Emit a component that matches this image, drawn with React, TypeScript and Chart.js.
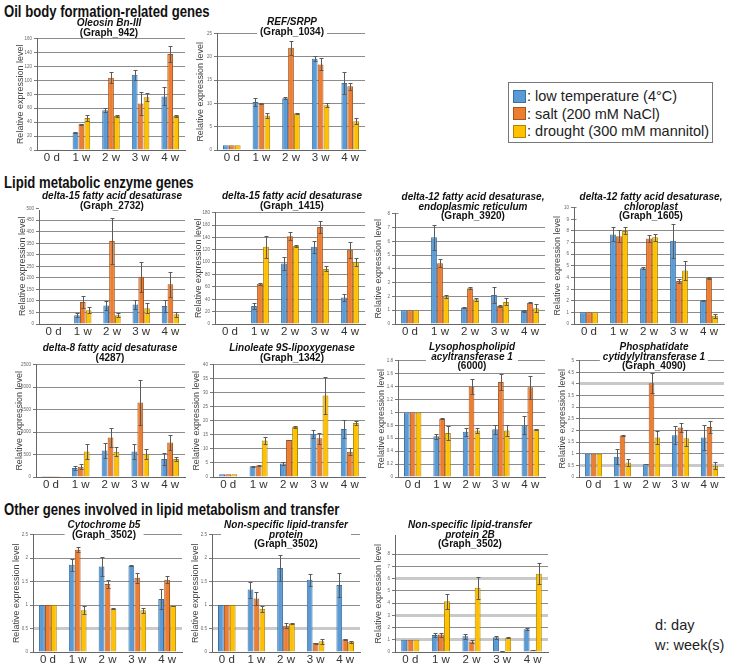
import React, { useEffect, useRef } from 'react';
import { Chart, registerables } from 'chart.js';
Chart.register(...registerables);

const FONT = '"Liberation Sans", Arial, Helvetica, sans-serif';
Chart.defaults.font.family = FONT;

const CATEGORIES = ['0 d', '1 w', '2 w', '3 w', '4 w'];
const SERIES_LABELS = ['low temperature (4°C)', 'salt (200 mM NaCl)', 'drought (300 mM mannitol)'];
const Y_TITLE = 'Relative expression level';

// Oleosin Bn-III (Graph_942)
const oleosinCold = [1, 25, 57, 108, 77];
const oleosinSalt = [1, 37, 104, 67, 138];
const oleosinDrought = [1, 46, 49, 76, 49];
const oleosinColdErr = [0, 1, 3, 7, 13];
const oleosinSaltErr = [0, 1, 8, 16, 11];
const oleosinDroughtErr = [0, 5, 1, 6, 1];

// REF/SRPP (Graph_1034)
const refCold = [1, 10.3, 11.1, 19.6, 14.4];
const refSalt = [1, 10, 22, 18.4, 13.7];
const refDrought = [1, 7.4, 7.9, 9.6, 6.2];
const refColdErr = [0, 0.8, 0.2, 0.5, 2.3];
const refSaltErr = [0, 0.1, 1.5, 1.3, 0.8];
const refDroughtErr = [0, 0.5, 0.1, 0.4, 0.6];

// delta-15 fatty acid desaturase (Graph_2732)
const d15aCold = [1, 38, 80, 85, 78];
const d15aSalt = [1, 95, 360, 205, 172];
const d15aDrought = [1, 60, 38, 68, 42];
const d15aColdErr = [0, 8, 18, 18, 25];
const d15aSaltErr = [0, 25, 100, 65, 55];
const d15aDroughtErr = [0, 12, 8, 22, 10];

// delta-15 fatty acid desaturase (Graph_1415)
const d15bCold = [1, 29, 98, 125, 43];
const d15bSalt = [1, 65, 142, 157, 120];
const d15bDrought = [1, 125, 126, 89, 100];
const d15bColdErr = [0, 5, 11, 10, 6];
const d15bSaltErr = [0, 2, 6, 10, 13];
const d15bDroughtErr = [0, 18, 1, 4, 6];

// delta-12 fatty acid desaturase, endoplasmic reticulum (Graph_3920)
const d12erCold = [1, 6.3, 1.2, 2.1, 0.95];
const d12erSalt = [1, 4.4, 2.6, 1.3, 1.55];
const d12erDrought = [1, 2.0, 1.8, 1.6, 1.15];
const d12erColdErr = [0, 0.9, 0.05, 0.55, 0.05];
const d12erSaltErr = [0, 0.3, 0.05, 0.05, 0.05];
const d12erDroughtErr = [0, 0.1, 0.1, 0.25, 0.3];

// delta-12 fatty acid desaturase, chloroplast (Graph_1605)
const d12chCold = [1, 7.7, 4.8, 7.15, 2.05];
const d12chSalt = [1, 7.55, 7.35, 3.7, 3.95];
const d12chDrought = [1, 8.0, 7.45, 4.6, 0.7];
const d12chColdErr = [0, 0.6, 0.1, 1.45, 0.05];
const d12chSaltErr = [0, 0.5, 0.3, 0.15, 0.05];
const d12chDroughtErr = [0, 0.3, 0.3, 0.8, 0.15];

// delta-8 fatty acid desaturase (4287)
const d8Cold = [1, 200, 590, 570, 400];
const d8Salt = [1, 230, 880, 1660, 770];
const d8Drought = [1, 570, 560, 520, 400];
const d8ColdErr = [0, 50, 160, 170, 140];
const d8SaltErr = [0, 60, 220, 500, 170];
const d8DroughtErr = [0, 160, 100, 110, 50];

// Linoleate 9S-lipoxygenase (Graph_1342)
const loxCold = [1, 3.8, 4.8, 15.4, 17.1];
const loxSalt = [1, 4.1, 13.2, 13.8, 9.0];
const loxDrought = [1, 13.0, 17.8, 29.0, 19.2];
const loxColdErr = [0, 0.2, 0.5, 1.4, 3.2];
const loxSaltErr = [0, 0.2, 0.1, 1.9, 1.3];
const loxDroughtErr = [0, 1.4, 0.5, 6.5, 0.8];

// Lysophospholipid acyltransferase 1 (6000)
const lpatCold = [1, 0.63, 0.7, 0.74, 0.8];
const lpatSalt = [1, 0.9, 1.4, 1.47, 1.39];
const lpatDrought = [1, 0.68, 0.72, 0.72, 0.74];
const lpatColdErr = [0, 0.04, 0.06, 0.07, 0.14];
const lpatSaltErr = [0, 0.01, 0.11, 0.12, 0.18];
const lpatDroughtErr = [0, 0.11, 0.04, 0.08, 0.01];

// Phosphatidate cytidylyltransferase 1 (Graph_4090)
const pctCold = [1, 0.87, 0.55, 1.8, 1.7];
const pctSalt = [1, 1.78, 4.03, 2.13, 2.15];
const pctDrought = [1, 0.62, 1.7, 1.67, 0.48];
const pctColdErr = [0, 0.32, 0.01, 0.38, 0.52];
const pctSaltErr = [0, 0.03, 0.42, 0.18, 0.25];
const pctDroughtErr = [0, 0.15, 0.27, 0.35, 0.15];

// Cytochrome b5 (Graph_3502)
const cytCold = [1, 1.86, 1.82, 1.84, 1.13];
const cytSalt = [1, 2.18, 1.45, 1.58, 1.54];
const cytDrought = [1, 0.89, 0.92, 0.89, 0.98];
const cytColdErr = [0, 0.13, 0.2, 0.01, 0.22];
const cytSaltErr = [0, 0.05, 0.08, 0.1, 0.07];
const cytDroughtErr = [0, 0.09, 0.01, 0.05, 0.01];

// Non-specific lipid-transfer protein (Graph_3502)
const nsltpCold = [1, 1.33, 1.79, 1.54, 1.43];
const nsltpSalt = [1, 1.14, 0.56, 0.19, 0.27];
const nsltpDrought = [1, 0.92, 0.61, 0.23, 0.22];
const nsltpColdErr = [0, 0.17, 0.28, 0.13, 0.25];
const nsltpSaltErr = [0, 0.14, 0.05, 0.01, 0.01];
const nsltpDroughtErr = [0, 0.06, 0.01, 0.05, 0.02];

// Non-specific lipid-transfer protein 2B (Graph_3502)
const nsltp2bCold = [1, 1.38, 1.28, 1.2, 1.85];
const nsltp2bSalt = [1, 1.42, 0.85, 0.07, 0.15];
const nsltp2bDrought = [1, 4.15, 5.25, 1.17, 6.4];
const nsltp2bColdErr = [0, 0.17, 0.2, 0.12, 0.08];
const nsltp2bSaltErr = [0, 0.17, 0.1, 0.01, 0.02];
const nsltp2bDroughtErr = [0, 0.6, 0.9, 0.02, 0.85];

const COLORS = ['#5b9bd5', '#ed7d31', '#ffc000'];
const BORDERS = ['#3d6f9e', '#a4561f', '#b08600'];

type Line = { text: string; italic: boolean };
type PanelCfg = {
  id: string;
  title: Line[];
  tx: number; ty: number;
  L: number; T: number; R: number; B: number;
  max: number; step: number; labelMax?: number; thick?: number[];
  values: number[][];
  errors: number[][];
};

const PANELS: PanelCfg[] = [
  { id: 'oleosin', title: [{ text: 'Oleosin Bn-III', italic: true }, { text: '(Graph_942)', italic: false }],
    tx: 109, ty: 18, L: 37, T: 38, R: 185, B: 150, max: 160, step: 20,
    values: [oleosinCold, oleosinSalt, oleosinDrought], errors: [oleosinColdErr, oleosinSaltErr, oleosinDroughtErr] },
  { id: 'ref', title: [{ text: 'REF/SRPP', italic: true }, { text: '(Graph_1034)', italic: false }],
    tx: 292, ty: 17, L: 217, T: 33, R: 365, B: 150, max: 25, step: 5,
    values: [refCold, refSalt, refDrought], errors: [refColdErr, refSaltErr, refDroughtErr] },
  { id: 'd15a', title: [{ text: 'delta-15 fatty acid desaturase', italic: true }, { text: '(Graph_2732)', italic: false }],
    tx: 112, ty: 191, L: 39, T: 208, R: 185, B: 324, max: 500, step: 50,
    values: [d15aCold, d15aSalt, d15aDrought], errors: [d15aColdErr, d15aSaltErr, d15aDroughtErr] },
  { id: 'd15b', title: [{ text: 'delta-15 fatty acid desaturase', italic: true }, { text: '(Graph_1415)', italic: false }],
    tx: 292, ty: 191, L: 215, T: 212, R: 365, B: 324, max: 180, step: 20,
    values: [d15bCold, d15bSalt, d15bDrought], errors: [d15bColdErr, d15bSaltErr, d15bDroughtErr] },
  { id: 'd12er', title: [{ text: 'delta-12 fatty acid desaturase,', italic: true }, { text: 'endoplasmic reticulum', italic: true }, { text: '(Graph_3920)', italic: false }],
    tx: 473, ty: 192, L: 395, T: 213, R: 545, B: 324, max: 8, step: 1,
    values: [d12erCold, d12erSalt, d12erDrought], errors: [d12erColdErr, d12erSaltErr, d12erDroughtErr] },
  { id: 'd12ch', title: [{ text: 'delta-12 fatty acid desaturase,', italic: true }, { text: 'chloroplast', italic: true }, { text: '(Graph_1605)', italic: false }],
    tx: 651, ty: 192, L: 574, T: 207, R: 724, B: 324, max: 10, step: 1,
    values: [d12chCold, d12chSalt, d12chDrought], errors: [d12chColdErr, d12chSaltErr, d12chDroughtErr] },
  { id: 'd8', title: [{ text: 'delta-8 fatty acid desaturase', italic: true }, { text: '(4287)', italic: false }],
    tx: 110, ty: 343, L: 36, T: 364, R: 185, B: 477, max: 2500, step: 500,
    values: [d8Cold, d8Salt, d8Drought], errors: [d8ColdErr, d8SaltErr, d8DroughtErr] },
  { id: 'lox', title: [{ text: 'Linoleate 9S-lipoxygenase', italic: true }, { text: '(Graph_1342)', italic: false }],
    tx: 292, ty: 343, L: 213, T: 364, R: 365, B: 477, max: 40, step: 5,
    values: [loxCold, loxSalt, loxDrought], errors: [loxColdErr, loxSaltErr, loxDroughtErr] },
  { id: 'lpat', title: [{ text: 'Lysophospholipid', italic: true }, { text: 'acyltransferase 1', italic: true }, { text: '(6000)', italic: false }],
    tx: 472, ty: 342, L: 398, T: 360, R: 545, B: 477, max: 1.8, step: 0.2,
    values: [lpatCold, lpatSalt, lpatDrought], errors: [lpatColdErr, lpatSaltErr, lpatDroughtErr] },
  { id: 'pct', title: [{ text: 'Phosphatidate', italic: true }, { text: 'cytidylyltransferase 1', italic: true }, { text: '(Graph_4090)', italic: false }],
    tx: 654, ty: 342, L: 579, T: 360, R: 724, B: 477, max: 5, step: 0.5, thick: [0.5, 4],
    values: [pctCold, pctSalt, pctDrought], errors: [pctColdErr, pctSaltErr, pctDroughtErr] },
  { id: 'cyt', title: [{ text: 'Cytochrome b5', italic: true }, { text: '(Graph_3502)', italic: false }],
    tx: 104, ty: 520, L: 33, T: 534, R: 182, B: 652, max: 2.5, step: 0.5, thick: [0.5],
    values: [cytCold, cytSalt, cytDrought], errors: [cytColdErr, cytSaltErr, cytDroughtErr] },
  { id: 'nsltp', title: [{ text: 'Non-specific lipid-transfer', italic: true }, { text: 'protein', italic: true }, { text: '(Graph_3502)', italic: false }],
    tx: 286, ty: 520, L: 212, T: 534, R: 360, B: 652, max: 2.5, step: 0.5, thick: [0.5],
    values: [nsltpCold, nsltpSalt, nsltpDrought], errors: [nsltpColdErr, nsltpSaltErr, nsltpDroughtErr] },
  { id: 'nsltp2b', title: [{ text: 'Non-specific lipid-transfer', italic: true }, { text: 'protein 2B', italic: true }, { text: '(Graph_3502)', italic: false }],
    tx: 470, ty: 520, L: 395, T: 535, R: 548, B: 652, max: 9.5, step: 1, labelMax: 8, thick: [1, 3, 6],
    values: [nsltp2bCold, nsltp2bSalt, nsltp2bDrought], errors: [nsltp2bColdErr, nsltp2bSaltErr, nsltp2bDroughtErr] },
];

const errorBarPlugin = {
  id: 'errorBars',
  afterDatasetsDraw(chart: any, _args: any, opts: any) {
    const errs: number[][] = opts.errors || [];
    const y = chart.scales.y;
    const ctx = chart.ctx;
    ctx.save();
    ctx.strokeStyle = '#5a5a5a';
    ctx.lineWidth = 1;
    chart.data.datasets.forEach((ds: any, i: number) => {
      const meta = chart.getDatasetMeta(i);
      meta.data.forEach((bar: any, j: number) => {
        const e = errs[i] ? errs[i][j] : 0;
        if (!e) return;
        const v = ds.data[j];
        const y1 = Math.round(y.getPixelForValue(v + e)) + 0.5;
        const y2 = Math.round(y.getPixelForValue(Math.max(0, v - e))) + 0.5;
        const x = Math.round(bar.x) + 0.5;
        ctx.beginPath();
        ctx.moveTo(x, y1); ctx.lineTo(x, y2);
        ctx.moveTo(x - 2, y1); ctx.lineTo(x + 2, y1);
        ctx.moveTo(x - 2, y2); ctx.lineTo(x + 2, y2);
        ctx.stroke();
      });
    });
    ctx.restore();
  },
};

const YW = 22, PT = 4, PR = 2, XH = 20;

function Panel({ cfg }: { cfg: PanelCfg }) {
  const ref = useRef<HTMLCanvasElement>(null);
  const left = cfg.L - YW;
  const top = cfg.T - PT;
  const width = cfg.R - cfg.L + YW + PR;
  const height = cfg.B - cfg.T + PT + XH;
  useEffect(() => {
    const thick = cfg.thick || [];
    const lm = cfg.labelMax;
    const near = (a: number, b: number) => Math.abs(a - b) < 1e-6;
    const chart = new Chart(ref.current as HTMLCanvasElement, {
      type: 'bar',
      data: {
        labels: CATEGORIES,
        datasets: cfg.values.map((vals, i) => ({
          label: SERIES_LABELS[i],
          data: vals,
          backgroundColor: COLORS[i],
          borderColor: BORDERS[i],
          borderWidth: 1,
          categoryPercentage: 0.6,
          barPercentage: 0.97,
        })),
      },
      options: {
        responsive: false,
        maintainAspectRatio: false,
        animation: false,
        layout: { padding: { left: 0, right: PR, top: PT, bottom: 0 } },
        plugins: {
          legend: { display: false },
          tooltip: { enabled: false },
          errorBars: { errors: cfg.errors },
        } as any,
        scales: {
          x: {
            grid: { display: false, drawTicks: false },
            border: { display: true, color: '#666', width: 1 },
            ticks: { font: { size: 11.5, family: FONT }, color: '#333', padding: 1, maxRotation: 0, autoSkip: false },
            afterFit: (s: any) => { s.height = XH; },
          },
          y: {
            min: 0,
            max: cfg.max,
            ticks: {
              stepSize: cfg.step,
              font: { size: 4.5, family: FONT },
              color: '#666',
              padding: 2,
              callback: (v: any) => (lm !== undefined && v > lm + 1e-6 ? '' : String(Math.round(v * 100) / 100)),
            },
            grid: {
              color: (c: any) => {
                const v = c.tick ? c.tick.value : 0;
                if (lm !== undefined && v > lm + 1e-6) return 'rgba(0,0,0,0)';
                if (thick.some((t) => near(t, v))) return '#c9c9c9';
                return '#8c8c8c';
              },
              lineWidth: (c: any) => {
                const v = c.tick ? c.tick.value : 0;
                return thick.some((t) => near(t, v)) ? 3 : 1;
              },
              tickColor: (c: any) => {
                const v = c.tick ? c.tick.value : 0;
                if (lm !== undefined && v > lm + 1e-6) return 'rgba(0,0,0,0)';
                return '#777';
              },
              tickWidth: 1,
              tickLength: 3,
            },
            border: { display: true, color: '#666', width: 1 },
            title: { display: true, text: Y_TITLE, font: { size: 9, family: FONT }, color: '#444', padding: 0 },
            afterFit: (s: any) => { s.width = YW; },
          },
        },
      },
      plugins: [errorBarPlugin],
    } as any);
    return () => chart.destroy();
  }, []);
  return (
    <>
      <canvas ref={ref} width={width} height={height}
        style={{ position: 'absolute', left, top, width, height }} />
      <div style={{
        position: 'absolute', left: cfg.tx, top: cfg.ty, transform: 'translateX(-50%)',
        background: '#fff', padding: '0 3px', textAlign: 'center', whiteSpace: 'nowrap',
        fontFamily: FONT, fontWeight: 'bold', fontSize: 10, lineHeight: '9.5px', color: '#111',
      }}>
        {cfg.title.map((l, i) => (
          <div key={i} style={{ fontStyle: l.italic ? 'italic' : 'normal' }}>{l.text}</div>
        ))}
      </div>
    </>
  );
}

const HEADINGS = [
  { text: 'Oil body formation-related genes', y: 3 },
  { text: 'Lipid metabolic enzyme genes', y: 174 },
  { text: 'Other genes involved in lipid metabolism and transfer', y: 501 },
];

export default function App() {
  return (
    <div style={{ position: 'absolute', left: 0, top: 0, width: 731, height: 665, background: '#fff', overflow: 'hidden' }}>
      {HEADINGS.map((h) => (
        <div key={h.text} style={{ position: 'absolute', left: 4, top: h.y, fontFamily: FONT, fontWeight: 'bold', fontSize: 16, lineHeight: '18px', color: '#111', whiteSpace: 'nowrap', transform: 'scaleX(0.82)', transformOrigin: 'left center' }}>{h.text}</div>
      ))}
      {PANELS.map((p) => <Panel key={p.id} cfg={p} />)}
      <div style={{ position: 'absolute', left: 508, top: 82, width: 203, height: 59, border: '1px solid #777', background: '#fff' }}>
        {SERIES_LABELS.map((s, i) => (
          <div key={s} style={{ position: 'absolute', left: 4, top: 5 + i * 17.5, height: 16, display: 'flex', alignItems: 'center', whiteSpace: 'nowrap' }}>
            <div style={{ width: 13, height: 13, background: COLORS[i], border: '1px solid ' + BORDERS[i], boxSizing: 'border-box' }} />
            <span style={{ fontFamily: FONT, fontSize: 14.5, color: '#222', marginLeft: 1 }}>: {s}</span>
          </div>
        ))}
      </div>
      <div style={{ position: 'absolute', left: 655, top: 615, fontFamily: FONT, fontSize: 14.5, lineHeight: '20px', color: '#222' }}>
        <div>d: day</div>
        <div>w: week(s)</div>
      </div>
    </div>
  );
}
